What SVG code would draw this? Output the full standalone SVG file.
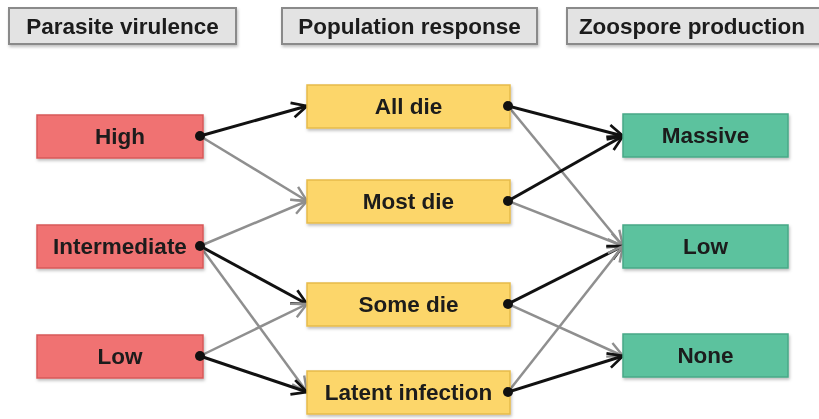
<svg xmlns="http://www.w3.org/2000/svg" width="819" height="419" viewBox="0 0 819 419">
<style>
text{font-family:"Liberation Sans",Arial,sans-serif;font-weight:bold;fill:#1a1a1a;text-anchor:middle;dominant-baseline:central}
.hdr rect{fill:#e3e3e3;stroke:#8a8a8a;stroke-width:2}
.hdr text{font-size:22.5px}
.red rect{fill:#f07272;stroke:#d85858;stroke-width:1.5}
.yel rect{fill:#fcd66a;stroke:#e6bb4a;stroke-width:1.5}
.grn rect{fill:#5cc29e;stroke:#48a887;stroke-width:1.5}
.node text{font-size:22.5px}
.blk{stroke:#111;stroke-width:3;fill:none;marker-end:url(#ab)}
.gry{stroke:#8f8f8f;stroke-width:2.5;fill:none;marker-end:url(#ag)}
.dot{fill:#111}
</style>
<defs>
<filter id="sh" x="-10%" y="-20%" width="120%" height="150%"><feDropShadow dx="1" dy="2" stdDeviation="1.5" flood-color="#000" flood-opacity="0.25"/></filter>
<marker id="ab" viewBox="0 0 12 12" refX="11" refY="6" markerWidth="18" markerHeight="18" markerUnits="userSpaceOnUse" orient="auto"><path d="M1,1 L11,6 L1,11" fill="none" stroke="#111" stroke-width="1.8"/></marker>
<marker id="ag" viewBox="0 0 12 12" refX="11" refY="6" markerWidth="18" markerHeight="18" markerUnits="userSpaceOnUse" orient="auto"><path d="M1,1 L11,6 L1,11" fill="none" stroke="#8f8f8f" stroke-width="1.6"/></marker>
</defs>

<g id="h1" class="hdr" filter="url(#sh)"><rect x="9" y="8" width="227" height="36"/><text x="122.5" y="26">Parasite virulence</text></g>
<g id="h2" class="hdr" filter="url(#sh)"><rect x="282" y="8" width="255" height="36"/><text x="409.5" y="26">Population response</text></g>
<g id="h3" class="hdr" filter="url(#sh)"><rect x="567" y="8" width="255" height="36"/><text x="692" y="26">Zoospore production</text></g>

<g id="connectors">
<path class="blk" d="M200,136 L307,106"/>
<path class="gry" d="M200,136 L307,201"/>
<path class="gry" d="M200,246 L307,201"/>
<path class="blk" d="M200,246 L307,304"/>
<path class="gry" d="M200,246 L307,392"/>
<path class="gry" d="M200,356 L307,304"/>
<path class="blk" d="M200,356 L307,392"/>
<path class="blk" d="M508,106 L623,136"/>
<path class="gry" d="M508,106 L623,246"/>
<path class="blk" d="M508,201 L623,136"/>
<path class="gry" d="M508,201 L623,246"/>
<path class="blk" d="M508,304 L623,246"/>
<path class="gry" d="M508,304 L623,356"/>
<path class="gry" d="M508,392 L623,246"/>
<path class="blk" d="M508,392 L623,356"/>
</g>

<g id="high" class="node red" filter="url(#sh)"><rect x="37" y="115" width="166" height="43"/><text x="120" y="136.5">High</text></g>
<g id="intermediate" class="node red" filter="url(#sh)"><rect x="37" y="225" width="166" height="43"/><text x="120" y="246.5">Intermediate</text></g>
<g id="low" class="node red" filter="url(#sh)"><rect x="37" y="335" width="166" height="43"/><text x="120" y="356.5">Low</text></g>

<g id="alldie" class="node yel" filter="url(#sh)"><rect x="307" y="85" width="203" height="43"/><text x="408.5" y="106.5">All die</text></g>
<g id="mostdie" class="node yel" filter="url(#sh)"><rect x="307" y="180" width="203" height="43"/><text x="408.5" y="201.5">Most die</text></g>
<g id="somedie" class="node yel" filter="url(#sh)"><rect x="307" y="283" width="203" height="43"/><text x="408.5" y="304.5">Some die</text></g>
<g id="latent" class="node yel" filter="url(#sh)"><rect x="307" y="371" width="203" height="43"/><text x="408.5" y="392.5">Latent infection</text></g>

<g id="massive" class="node grn" filter="url(#sh)"><rect x="623" y="114" width="165" height="43"/><text x="705.5" y="135.5">Massive</text></g>
<g id="lowz" class="node grn" filter="url(#sh)"><rect x="623" y="225" width="165" height="43"/><text x="705.5" y="246.5">Low</text></g>
<g id="none" class="node grn" filter="url(#sh)"><rect x="623" y="334" width="165" height="43"/><text x="705.5" y="355.5">None</text></g>

<g id="dots">
<circle class="dot" cx="200" cy="136" r="5"/>
<circle class="dot" cx="200" cy="246" r="5"/>
<circle class="dot" cx="200" cy="356" r="5"/>
<circle class="dot" cx="508" cy="106" r="5"/>
<circle class="dot" cx="508" cy="201" r="5"/>
<circle class="dot" cx="508" cy="304" r="5"/>
<circle class="dot" cx="508" cy="392" r="5"/>
</g>
</svg>
